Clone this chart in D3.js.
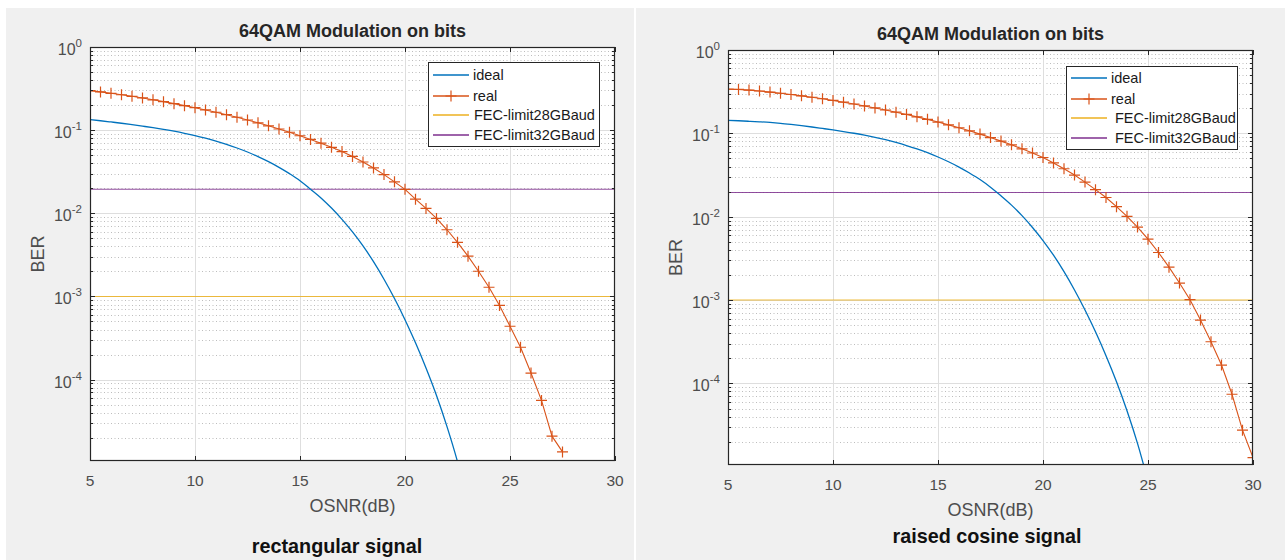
<!DOCTYPE html>
<html>
<head>
<meta charset="utf-8">
<script src="https://cdn.jsdelivr.net/npm/d3@7"></script>
<style>
  html, body { margin: 0; padding: 0; background: #ffffff; }
  svg { display: block; }
  text { font-family: "Liberation Sans", Arial, Helvetica, sans-serif; }
</style>
</head>
<body>
<svg id="chart" width="1287" height="560"></svg>
<script>
// ---- data ---------------------------------------------------------------
// rectangular pulse: measured BER ("real") and theoretical BER ("ideal")
const osnrRectReal = [5,5.5,6,6.5,7,7.5,8,8.5,9,9.5,10,10.5,11,11.5,12,12.5,13,13.5,14,14.5,15,15.5,16,16.5,17,17.5,18,18.5,19,19.5,20,20.5,21,21.5,22,22.5,23,23.5,24,24.5,25,25.5,26,26.5,27,27.5];
const berRectReal = [0.2985,0.2884,0.2773,0.2667,0.2553,0.2438,0.2317,0.2203,0.2084,0.1972,0.1862,0.1750,0.1641,0.1535,0.1429,0.1324,0.1225,0.1127,0.1033,0.0944,0.0857,0.0774,0.0697,0.0622,0.0552,0.0483,0.0414,0.0351,0.0292,0.0239,0.0194,0.0148,0.01146,0.00867,0.00634,0.00448,0.00305,0.00201,0.00129,0.000780,0.000438,0.000245,0.000120,0.0000562,0.0000209,0.0000135];

const osnrRectIdeal = [5,5.5,6,6.5,7,7.5,8,8.5,9,9.5,10,10.5,11,11.5,12,12.5,13,13.5,14,14.5,15,15.5,16,16.5,17,17.5,18,18.5,19,19.5,20,20.5,21,21.5,22,22.5,23];
const berRectIdeal = [0.1337,0.1297,0.1254,0.1211,0.1164,0.1117,0.1071,0.1023,0.0971,0.0917,0.0861,0.0800,0.0738,0.0675,0.0610,0.0546,0.0481,0.0418,0.0357,0.0300,0.0247,0.0195,0.0153,0.01156,0.00846,0.00597,0.00405,0.00262,0.00161,0.000944,0.000525,0.000277,0.000138,0.0000645,0.0000272,0.0000103,0.00000325];

// raised-cosine pulse
const osnrRcosReal = [5,5.5,6,6.5,7,7.5,8,8.5,9,9.5,10,10.5,11,11.5,12,12.5,13,13.5,14,14.5,15,15.5,16,16.5,17,17.5,18,18.5,19,19.5,20,20.5,21,21.5,22,22.5,23,23.5,24,24.5,25,25.5,26,26.5,27,27.5,28,28.5,29,29.5,30];
const berRcosReal = [0.3388,0.3365,0.3304,0.3221,0.3126,0.3027,0.2924,0.2818,0.2710,0.2600,0.2483,0.2366,0.2249,0.2133,0.2018,0.1905,0.1795,0.1687,0.1578,0.1472,0.1365,0.1265,0.1167,0.1072,0.0979,0.0891,0.0807,0.0728,0.0652,0.0581,0.0513,0.0442,0.0376,0.0316,0.0260,0.0211,0.0170,0.0132,0.0101,0.00750,0.00537,0.00372,0.00248,0.00160,0.00101,0.000575,0.000316,0.000166,0.0000741,0.0000275,0.0000129];

const osnrRcosIdeal = [5,5.5,6,6.5,7,7.5,8,8.5,9,9.5,10,10.5,11,11.5,12,12.5,13,13.5,14,14.5,15,15.5,16,16.5,17,17.5,18,18.5,19,19.5,20,20.5,21,21.5,22,22.5,23,23.5,24,24.5,25];
const berRcosIdeal = [0.1433,0.1416,0.1396,0.1375,0.1351,0.1319,0.1279,0.1236,0.1192,0.1145,0.1099,0.1052,0.1003,0.0950,0.0896,0.0839,0.0777,0.0714,0.0650,0.0586,0.0520,0.0456,0.0394,0.0334,0.0279,0.0226,0.0178,0.01378,0.0103,0.00743,0.00518,0.00345,0.00219,0.00132,0.000760,0.000416,0.000215,0.0001047,0.0000471,0.0000191,0.00000672];

// FEC thresholds (BER)
const fecLimit28G = 1e-3;
const fecLimit32G = 0.0195;

// axes
const xTicks = [5,10,15,20,25,30];
const yDecades = [-4,-3,-2,-1,0];
const seriesNames = ["ideal","real","FEC-limit28GBaud","FEC-limit32GBaud"];
const plotTitle = "64QAM Modulation on bits";
const captions = ["rectangular signal","raised cosine signal"];

// ---- styling ------------------------------------------------------------
const colors = { ideal: "#0072BD", real: "#D95319", fec28: "#EDB120", fec32: "#7E2F8E" };
const axisInk = "#262626";

const svg = d3.select("#chart");

// one MATLAB-style figure per pulse shape
const panels = [
  { bg: [6, 8, 628, 552],  box: [90, 47, 615, 461],  legend: [428, 62, 599, 146], legendRows: [75, 96, 115, 135], caption: [337, 553],
    real: [osnrRectReal, berRectReal], ideal: [osnrRectIdeal, berRectIdeal], titleY: 37, fecTextDx: 1 },
  { bg: [636, 8, 649, 552], box: [728, 50, 1253, 465], legend: [1066, 66, 1237, 149], legendRows: [78, 99, 118, 138], caption: [987, 543],
    real: [osnrRcosReal, berRcosReal], ideal: [osnrRcosIdeal, berRcosIdeal], titleY: 40, fecTextDx: 4 }
];

panels.forEach((p, i) => {
  const g = svg.append("g");
  g.append("rect").attr("x", p.bg[0]).attr("y", p.bg[1]).attr("width", p.bg[2]).attr("height", p.bg[3]).attr("fill", "#f0f0f0");

  const [x0, y0, x1, y1] = p.box;
  const x = d3.scaleLinear().domain([5, 30]).range([x0, x1]);
  const y = d3.scaleLog().domain([1.05e-5, 1]).range([y1, y0]);

  // plot area
  g.append("rect").attr("x", x0).attr("y", y0).attr("width", x1 - x0).attr("height", y1 - y0).attr("fill", "#ffffff");

  const clipId = "clip" + i;
  g.append("clipPath").attr("id", clipId).append("rect")
    .attr("x", x0).attr("y", y0).attr("width", x1 - x0).attr("height", y1 - y0);

  // minor y grid (dotted)
  const minor = [];
  for (let e = -5; e < 0; e++) for (let k = 2; k <= 9; k++) {
    const v = k * Math.pow(10, e);
    if (v > y.domain()[0] && v < 1) minor.push(v);
  }
  g.append("g").selectAll("line").data(minor).join("line")
    .attr("x1", x0).attr("x2", x1)
    .attr("y1", d => Math.round(y(d)) + 0.5).attr("y2", d => Math.round(y(d)) + 0.5)
    .attr("stroke", "#bdbdbd").attr("stroke-width", 1).attr("stroke-dasharray", "1,2.5");

  // major grid
  g.append("g").selectAll("line").data(xTicks.slice(1, -1)).join("line")
    .attr("x1", d => Math.round(x(d)) + 0.5).attr("x2", d => Math.round(x(d)) + 0.5)
    .attr("y1", y0).attr("y2", y1).attr("stroke", "#dedede").attr("stroke-width", 1);
  g.append("g").selectAll("line").data(yDecades.filter(e => e < 0)).join("line")
    .attr("x1", x0).attr("x2", x1)
    .attr("y1", d => Math.round(y(Math.pow(10, d))) + 0.5).attr("y2", d => Math.round(y(Math.pow(10, d))) + 0.5)
    .attr("stroke", "#dedede").attr("stroke-width", 1);

  // series
  const plotG = g.append("g").attr("clip-path", `url(#${clipId})`);

  // FEC limits
  [[fecLimit32G, colors.fec32], [fecLimit28G, colors.fec28]].forEach(([v, c]) => {
    plotG.append("line").attr("x1", x0).attr("x2", x1).attr("y1", y(v)).attr("y2", y(v))
      .attr("stroke", c).attr("stroke-width", 1.1).attr("stroke-opacity", 0.85);
  });

  const idealPts = d3.zip(p.ideal[0], p.ideal[1]);
  const smooth = d3.line().x(d => x(d[0])).y(d => y(d[1])).curve(d3.curveMonotoneX);
  plotG.append("path").datum(idealPts)
    .attr("d", smooth)
    .attr("fill", "none").attr("stroke", colors.ideal).attr("stroke-width", 1.3);

  const realPts = d3.zip(p.real[0], p.real[1]);
  const straight = d3.line().x(d => x(d[0])).y(d => y(d[1]));
  plotG.append("path").datum(realPts)
    .attr("d", straight)
    .attr("fill", "none").attr("stroke", colors.real).attr("stroke-width", 1.1);
  const m = 5.5;
  plotG.append("g").selectAll("path").data(realPts).join("path")
    .attr("d", d => `M${x(d[0]) - m},${y(d[1])}H${x(d[0]) + m}M${x(d[0])},${y(d[1]) - m}V${y(d[1]) + m}`)
    .attr("stroke", colors.real).attr("stroke-width", 1.2).attr("fill", "none");

  // axes box
  g.append("rect").attr("x", x0 + 0.5).attr("y", y0 + 0.5).attr("width", x1 - x0 - 1).attr("height", y1 - y0 - 1)
    .attr("fill", "none").attr("stroke", axisInk).attr("stroke-width", 1.2);

  // ticks (inward, both sides)
  const tk = g.append("g").attr("stroke", axisInk).attr("stroke-width", 1);
  xTicks.forEach(t => {
    const px = Math.round(x(t)) + 0.5;
    tk.append("line").attr("x1", px).attr("x2", px).attr("y1", y1).attr("y2", y1 - 5);
    tk.append("line").attr("x1", px).attr("x2", px).attr("y1", y0).attr("y2", y0 + 5);
  });
  yDecades.forEach(e => {
    const py = Math.round(y(Math.pow(10, e))) + 0.5;
    tk.append("line").attr("x1", x0).attr("x2", x0 + 5).attr("y1", py).attr("y2", py);
    tk.append("line").attr("x1", x1).attr("x2", x1 - 5).attr("y1", py).attr("y2", py);
  });
  minor.forEach(v => {
    const py = Math.round(y(v)) + 0.5;
    tk.append("line").attr("x1", x0).attr("x2", x0 + 3).attr("y1", py).attr("y2", py);
    tk.append("line").attr("x1", x1).attr("x2", x1 - 3).attr("y1", py).attr("y2", py);
  });

  // tick labels
  g.append("g").selectAll("text").data(xTicks).join("text")
    .attr("x", d => x(d)).attr("y", y1 + 25)
    .attr("text-anchor", "middle").attr("font-size", 15.5).attr("fill", "#4d4d4d")
    .text(d => d);
  const yl = g.append("g").selectAll("text").data(yDecades).join("text")
    .attr("x", x0 - 8).attr("y", d => y(Math.pow(10, d)) + 8)
    .attr("text-anchor", "end").attr("font-size", 16).attr("fill", "#4d4d4d");
  yl.append("tspan").text("10");
  yl.append("tspan").attr("dy", -8).attr("font-size", 11.5).text(d => d);

  // axis labels and title
  g.append("text").attr("x", (x0 + x1) / 2).attr("y", y1 + 51)
    .attr("text-anchor", "middle").attr("font-size", 18).attr("fill", "#4d4d4d").text("OSNR(dB)");
  g.append("text").attr("transform", `translate(${x0 - 46},${(y0 + y1) / 2}) rotate(-90)`)
    .attr("text-anchor", "middle").attr("font-size", 18).attr("fill", "#4d4d4d").text("BER");
  g.append("text").attr("x", (x0 + x1) / 2).attr("y", p.titleY)
    .attr("text-anchor", "middle").attr("font-size", 18).attr("font-weight", "bold").attr("fill", "#262626").text(plotTitle);

  // legend
  const [lx0, ly0, lx1, ly1] = p.legend;
  const lg = g.append("g");
  lg.append("rect").attr("x", lx0 + 0.5).attr("y", ly0 + 0.5).attr("width", lx1 - lx0).attr("height", ly1 - ly0)
    .attr("fill", "#ffffff").attr("stroke", axisInk).attr("stroke-width", 1);
  const legendColors = [colors.ideal, colors.real, colors.fec28, colors.fec32];
  seriesNames.forEach((name, k) => {
    const ry = p.legendRows[k];
    lg.append("line").attr("x1", lx0 + 5).attr("x2", lx0 + 41).attr("y1", ry).attr("y2", ry)
      .attr("stroke", legendColors[k]).attr("stroke-width", 1.3);
    if (k === 1) {
      const cx = lx0 + 23;
      lg.append("path").attr("d", `M${cx - m},${ry}H${cx + m}M${cx},${ry - m}V${ry + m}`)
        .attr("stroke", colors.real).attr("stroke-width", 1.2);
    }
    lg.append("text").attr("x", lx0 + 45 + (k >= 2 ? p.fecTextDx : 0)).attr("y", ry + 5)
      .attr("font-size", 14.5).attr("fill", "#1a1a1a").text(name);
  });

  // caption below each figure
  g.append("text").attr("x", p.caption[0]).attr("y", p.caption[1])
    .attr("text-anchor", "middle").attr("font-family", "Lato, 'Open Sans', sans-serif")
    .attr("font-weight", "bold").attr("font-size", 19.8).attr("fill", "#111111").text(captions[i]);
});
</script>
</body>
</html>
